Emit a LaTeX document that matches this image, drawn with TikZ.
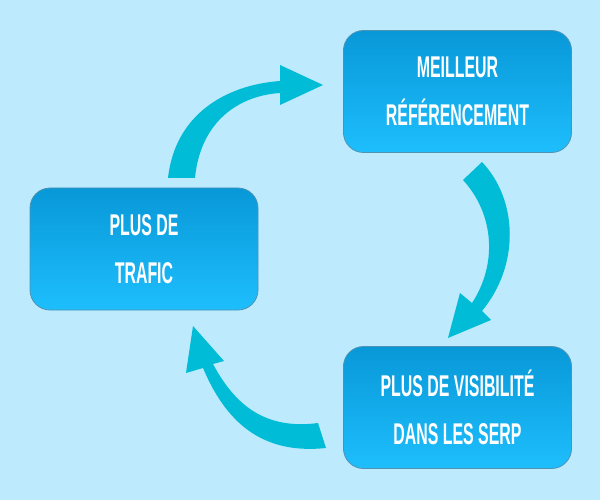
\documentclass[tikz,border=0pt]{standalone}
\usepackage{fontspec}
\newfontfamily\boxfont[FakeStretch=0.53]{Liberation Sans Bold}
\definecolor{bgc}{HTML}{BDEBFD}
\definecolor{boxtop}{HTML}{0898D8}
\definecolor{boxbot}{HTML}{1EBEFD}
\definecolor{boxedge}{HTML}{4F93B3}
\definecolor{arrowc}{HTML}{00BCD6}
\tikzset{
  cyclebox/.style={rounded corners=20pt, top color=boxtop, bottom color=boxbot,
    draw=boxedge, line width=0.8pt, minimum width=228pt, minimum height=122pt,
    text=white, align=center, inner sep=0pt,
    font=\boxfont\fontsize{30}{48}\selectfont},
  bigarrow/.style={fill=arrowc, draw=none}
}
\begin{document}
\begin{tikzpicture}[x=1pt,y=-1pt]
\useasboundingbox (0,0) rectangle (600,500);
\fill[bgc] (0,0) rectangle (600,500);
\node[cyclebox] (ref) at (457.5,91.5) {MEILLEUR\\RÉFÉRENCEMENT};
\node[cyclebox] (traf) at (144,249) {PLUS DE\\TRAFIC};
\node[cyclebox] (vis) at (457.5,407.5) {PLUS DE VISIBILITÉ\\DANS LES SERP};
% arrow: trafic -> referencement
\fill[bigarrow] (168,178) .. controls (175,115) and (225,85) .. (280,81)
  -- (280,65) -- (323,85) -- (280,105) -- (280,93)
  .. controls (235,96) and (200,125) .. (195,178) -- cycle;
% arrow: referencement -> visibilite
\fill[bigarrow] (463,180) -- (482,162) .. controls (518,200) and (520,265) .. (482,311)
  -- (491,320) -- (448,338) -- (460,293) -- (472,303)
  .. controls (497,265) and (495,215) .. (463,180) -- cycle;
% arrow: visibilite -> trafic
\fill[bigarrow] (326,448) .. controls (260,455) and (225,420) .. (203,368)
  -- (186,373) -- (193,326) -- (224,361) -- (213,364)
  .. controls (235,405) and (265,430) .. (318,423) -- cycle;
\end{tikzpicture}
\end{document}
